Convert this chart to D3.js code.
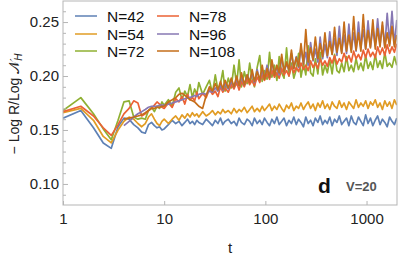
<!DOCTYPE html>
<html>
<head>
<meta charset="utf-8">
<script src="https://cdn.jsdelivr.net/npm/d3@7"></script>
<style>
  body { margin: 0; background: #fff; }
  text { font-family: "Liberation Sans", Arial, sans-serif; }
</style>
</head>
<body>
<svg width="399" height="259"></svg>
<script>
// time grid shared by all series
const tValues = [
  1, 1.5, 2, 2.5, 3, 3.5, 4, 4.5, 5, 5.5, 6, 6.5, 7, 7.5, 8, 8.5, 9, 9.5, 10,
  11, 12, 13, 14, 15, 16, 17, 18, 19, 20, 21, 22,
  24, 26, 28, 30, 32, 34, 36, 38, 40,
  43, 46, 49, 52, 55, 58,
  62, 66, 70, 74, 78,
  83, 88, 93, 98,
  104, 110, 116, 123, 130, 137, 145, 153, 162, 171, 181, 191,
  202, 213, 225, 238, 251, 265, 280, 296, 312, 330, 348, 368, 388,
  410, 433, 457, 483, 510, 538, 568, 600, 634, 669, 707, 746, 788, 832, 879, 928, 980,
  1035, 1093, 1154, 1219, 1287, 1359, 1435, 1516, 1600, 1690, 1785, 1885, 1990
];

const n42 = [
  0.161,0.168,0.152,0.138,0.133,0.153,0.161,0.160,0.155,0.152,0.148,0.147,0.155,0.157,0.154,0.152,0.153,0.150,0.151,
  0.155,0.159,0.156,0.158,0.154,0.157,0.160,0.156,0.158,0.155,0.159,0.157,
  0.155,0.160,0.157,0.154,0.159,0.156,0.161,0.155,0.158,
  0.160,0.156,0.158,0.154,0.161,0.157,
  0.155,0.160,0.158,0.154,0.161,
  0.156,0.159,0.155,0.161,
  0.157,0.154,0.160,0.156,0.162,0.155,0.158,0.161,0.154,0.159,0.156,0.162,
  0.155,0.160,0.157,0.153,0.162,0.156,0.159,0.154,0.161,0.157,0.163,0.155,0.159,
  0.156,0.162,0.154,0.160,0.157,0.163,0.155,0.158,0.161,0.154,0.163,0.157,0.155,0.162,0.158,0.154,0.164,
  0.156,0.161,0.154,0.159,0.163,0.155,0.160,0.157,0.153,0.162,0.158,0.155,0.161
];
const n54 = [
  0.166,0.170,0.159,0.144,0.138,0.150,0.158,0.162,0.160,0.156,0.153,0.156,0.162,0.165,0.160,0.156,0.154,0.158,0.160,
  0.156,0.160,0.163,0.159,0.164,0.161,0.165,0.162,0.166,0.163,0.165,0.162,
  0.167,0.163,0.165,0.168,0.164,0.167,0.165,0.169,0.166,
  0.168,0.165,0.170,0.166,0.169,0.167,
  0.171,0.166,0.169,0.172,0.167,
  0.170,0.167,0.172,0.168,
  0.171,0.174,0.168,0.172,0.169,0.174,0.170,0.167,0.173,0.170,0.175,0.168,
  0.172,0.170,0.175,0.169,0.173,0.176,0.170,0.174,0.168,0.175,0.171,0.177,0.170,
  0.174,0.169,0.176,0.172,0.170,0.177,0.171,0.175,0.169,0.176,0.173,0.170,0.178,0.171,0.175,0.172,0.177,
  0.170,0.176,0.173,0.178,0.171,0.175,0.169,0.177,0.172,0.176,0.170,0.178,0.173
];
const n72 = [
  0.168,0.180,0.165,0.151,0.141,0.159,0.176,0.177,0.162,0.160,0.161,0.160,0.168,0.171,0.167,0.172,0.170,0.176,0.173,
  0.178,0.172,0.185,0.189,0.178,0.186,0.181,0.192,0.180,0.188,0.183,0.194,
  0.183,0.190,0.196,0.184,0.201,0.187,0.193,0.205,0.186,
  0.198,0.189,0.210,0.192,0.215,0.190,
  0.204,0.193,0.212,0.197,0.190,
  0.208,0.219,0.195,0.205,
  0.197,0.222,0.199,0.210,0.196,0.218,0.203,0.198,0.226,0.200,0.212,0.198,
  0.206,0.221,0.199,0.212,0.201,0.228,0.203,0.200,0.216,0.202,0.222,0.201,0.210,
  0.203,0.215,0.202,0.220,0.205,0.203,0.212,0.204,0.218,0.205,0.210,0.204,0.216,0.206,0.212,0.205,0.219,
  0.207,0.213,0.206,0.220,0.208,0.214,0.207,0.222,0.209,0.212,0.208,0.218,0.210
];
const n78 = [
  0.167,0.172,0.163,0.152,0.145,0.155,0.165,0.170,0.177,0.175,0.163,0.165,0.168,0.170,0.173,0.176,0.174,0.171,0.170,
  0.175,0.171,0.179,0.176,0.181,0.174,0.183,0.178,0.180,0.177,0.185,0.179,
  0.184,0.180,0.188,0.183,0.186,0.181,0.190,0.185,0.189,
  0.185,0.192,0.188,0.194,0.187,0.195,
  0.190,0.197,0.192,0.196,0.191,
  0.199,0.194,0.201,0.196,
  0.202,0.197,0.205,0.199,0.203,0.198,0.207,0.201,0.205,0.200,0.209,0.203,
  0.208,0.204,0.212,0.206,0.210,0.205,0.214,0.208,0.212,0.207,0.216,0.210,0.214,
  0.209,0.217,0.212,0.219,0.211,0.216,0.213,0.221,0.214,0.219,0.213,0.223,0.216,0.220,0.215,0.224,0.217,
  0.225,0.218,0.222,0.217,0.227,0.220,0.226,0.219,0.229,0.221,0.227,0.222,0.230
];
const n96 = [
  null,null,null,null,null,null,0.154,0.158,0.162,0.165,0.167,0.169,0.171,0.172,0.172,0.172,0.173,0.173,0.173,
  0.174,0.175,0.176,0.177,0.178,0.179,0.180,0.180,0.181,0.182,0.181,0.183,
  0.184,0.183,0.186,0.185,0.189,0.186,0.191,0.187,0.193,
  0.188,0.195,0.190,0.197,0.191,0.199,
  0.192,0.201,0.195,0.203,0.194,
  0.206,0.196,0.205,0.198,
  0.210,0.199,0.213,0.202,0.208,0.201,0.217,0.204,0.211,0.206,0.221,0.207,
  0.218,0.208,0.226,0.211,0.222,0.210,0.231,0.214,0.225,0.213,0.236,0.216,0.229,
  0.217,0.241,0.220,0.235,0.219,0.246,0.222,0.238,0.221,0.248,0.224,0.240,0.223,0.250,0.226,0.243,0.225,
  0.251,0.227,0.244,0.228,0.253,0.229,0.247,0.227,0.258,0.230,0.260,0.229,0.252
];
const n108 = [
  null,null,null,null,null,null,0.160,0.161,0.162,0.163,0.164,0.166,0.168,0.170,0.170,0.171,0.171,0.172,0.172,
  0.176,0.178,0.180,0.183,0.184,0.182,0.180,0.178,0.177,0.176,0.174,0.172,
  0.170,0.182,0.190,0.186,0.193,0.187,0.195,0.188,0.196,
  0.189,0.198,0.190,0.200,0.191,0.203,
  0.192,0.201,0.194,0.206,0.195,
  0.204,0.196,0.210,0.197,
  0.207,0.199,0.215,0.201,0.210,0.203,0.220,0.204,0.213,0.206,0.224,0.207,
  0.217,0.209,0.230,0.211,0.243,0.213,0.226,0.215,0.236,0.216,0.230,0.218,0.240,
  0.219,0.232,0.220,0.245,0.222,0.235,0.221,0.250,0.223,0.238,0.222,0.255,0.224,0.240,0.223,0.257,0.225,
  0.242,0.226,0.252,0.225,0.244,0.227,0.250,0.226,0.240,0.228,0.246,0.227,0.238
];

const seriesNames = ['N=42', 'N=54', 'N=72', 'N=78', 'N=96', 'N=108'];
const seriesValues = [n42, n54, n72, n78, n96, n108];
const colors = ['#5E81B5', '#E19C24', '#8FB032', '#EB6235', '#8778B3', '#C56E1A'];

const xTicks = [1, 10, 100, 1000];
const yTicks = [0.10, 0.15, 0.20, 0.25];
const yMinor = [0.09, 0.11, 0.12, 0.13, 0.14, 0.16, 0.17, 0.18, 0.19, 0.21, 0.22, 0.23, 0.24, 0.26];

const svg = d3.select('svg');
const plotL = 63, plotR = 397, plotT = 1, plotB = 205;

const x = d3.scaleLog().domain([1, 2000]).range([plotL, plotR]);
const y = d3.scaleLinear().domain([0.0805, 0.2695]).range([plotB, plotT]);

svg.append('clipPath').attr('id', 'clip')
  .append('rect').attr('x', plotL).attr('y', plotT).attr('width', plotR - plotL).attr('height', plotB - plotT);

// lines, drawn in order so the last series sits on top
const line = d3.line().x(d => x(d[0])).y(d => y(d[1]));
const plot = svg.append('g').attr('clip-path', 'url(#clip)');
seriesValues.forEach((vals, i) => {
  const pts = tValues.map((t, j) => [t, vals[j]]).filter(d => d[1] != null);
  plot.append('path')
    .attr('d', line(pts))
    .attr('fill', 'none')
    .attr('stroke', colors[i])
    .attr('stroke-width', 1.7)
    .attr('stroke-linejoin', 'round');
});

// frame
svg.append('rect')
  .attr('x', plotL).attr('y', plotT).attr('width', plotR - plotL).attr('height', plotB - plotT)
  .attr('fill', 'none').attr('stroke', '#b5b5b5').attr('stroke-width', 1);

// axes with inward ticks
const xAxis = svg.append('g').attr('transform', `translate(0,${plotB})`)
  .call(d3.axisBottom(x).tickValues(xTicks).tickFormat(d3.format('d')).tickSize(-4).tickPadding(8));
const yAxis = svg.append('g').attr('transform', `translate(${plotL},0)`)
  .call(d3.axisLeft(y).tickValues(yTicks).tickFormat(d3.format('.2f')).tickSize(-5).tickPadding(4));
const yAxisMinor = svg.append('g').attr('transform', `translate(${plotL},0)`)
  .call(d3.axisLeft(y).tickValues(yMinor).tickFormat('').tickSize(-3));

[xAxis, yAxis, yAxisMinor].forEach(g => {
  g.select('.domain').remove();
  g.selectAll('line').attr('stroke', '#b5b5b5');
  g.selectAll('text').attr('fill', '#222').style('font-size', '15px')
    .style('font-family', '"Liberation Sans", Arial, sans-serif');
});

// axis titles
svg.append('text').attr('x', 230).attr('y', 253).attr('text-anchor', 'middle')
  .style('font-size', '15px').attr('fill', '#222').text('t');

const yl = svg.append('text')
  .attr('transform', 'translate(19,104) rotate(-90)')
  .attr('text-anchor', 'middle')
  .style('font-size', '14px').attr('fill', '#222');
yl.append('tspan').text('− Log R/Log ');
yl.append('tspan').text('𝒩');
yl.append('tspan').attr('dy', 3).style('font-size', '10px').style('font-style', 'italic').text('H');

// legend
const legendRows = [16, 34, 51];
seriesNames.forEach((name, i) => {
  const col = Math.floor(i / 3), row = i % 3;
  const lx = col === 0 ? 75 : 157;
  const ly = legendRows[row];
  svg.append('line').attr('x1', lx).attr('x2', lx + 22).attr('y1', ly).attr('y2', ly)
    .attr('stroke', colors[i]).attr('stroke-width', 1.5);
  svg.append('text').attr('x', lx + 32).attr('y', ly + 5.5)
    .style('font-size', '15.5px').attr('fill', '#111').text(name);
});

// panel labels
svg.append('text').attr('x', 318).attr('y', 193)
  .style('font-size', '21px').style('font-weight', 'bold').attr('fill', '#111').text('d');
svg.append('text').attr('x', 346).attr('y', 191)
  .style('font-size', '13px').style('font-weight', 'bold').attr('fill', '#555').text('V=20');
</script>
</body>
</html>
